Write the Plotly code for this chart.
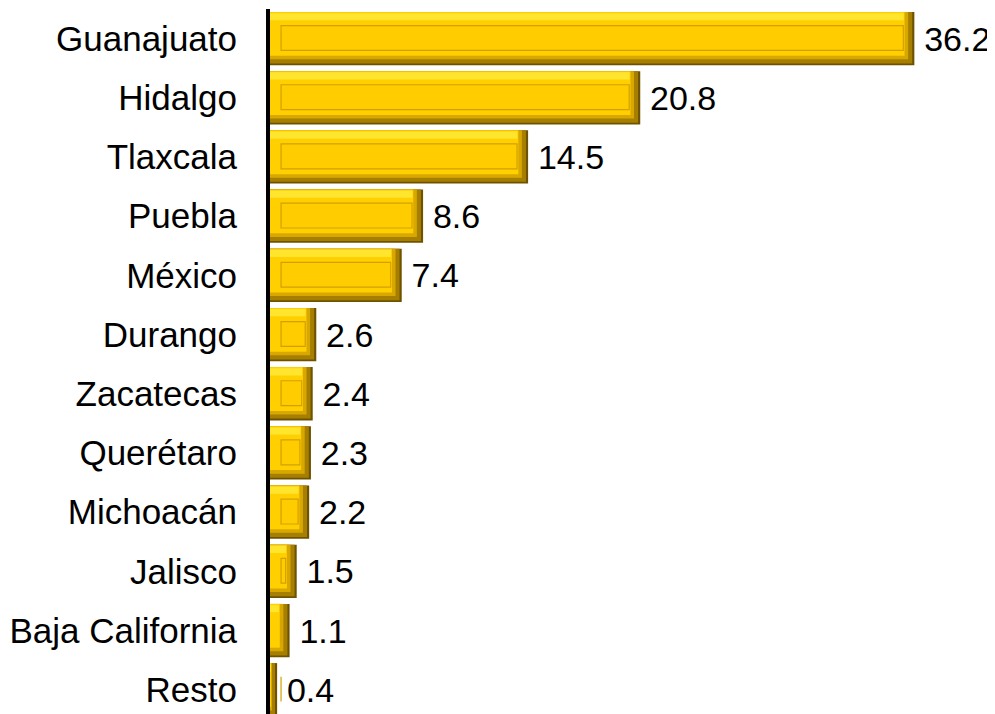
import plotly.graph_objects as go

states = ["Guanajuato", "Hidalgo", "Tlaxcala", "Puebla", "México", "Durango",
          "Zacatecas", "Querétaro", "Michoacán", "Jalisco", "Baja California", "Resto"]
values = [36.2, 20.8, 14.5, 8.6, 7.4, 2.6, 2.4, 2.3, 2.2, 1.5, 1.1, 0.4]
value_labels = ["36.2", "20.8", "14.5", "8.6", "7.4", "2.6", "2.4", "2.3", "2.2", "1.5", "1.1", "0.4"]

BEVEL_X = 0.62   # bevel thickness in x data units (~11px)
FONT = "Liberation Sans, Arial, sans-serif"


def shrink(d, floor):
    return [max(v - d, floor) for v in values]


fig = go.Figure()

# darkest outer edge (bottom / right)
fig.add_trace(go.Bar(
    y=states, x=values, orientation="h", width=0.9,
    marker=dict(color="#6E5200", line=dict(width=0)),
    text=["\u2009" + t for t in value_labels], textposition="outside", cliponaxis=False,
    constraintext="none",
    textfont=dict(family=FONT, size=34, color="black"),
    hoverinfo="skip",
))
# dark gold band
fig.add_trace(go.Bar(
    y=states, x=shrink(0.12, 0.08), orientation="h", width=0.87, offset=-0.45,
    marker=dict(color="#A67F00", line=dict(width=0)), hoverinfo="skip",
))
# mid gold band
fig.add_trace(go.Bar(
    y=states, x=shrink(0.35, 0.06), orientation="h", width=0.8, offset=-0.45,
    marker=dict(color="#D9A800", line=dict(width=0)), hoverinfo="skip",
))
# light body (top / left bevel)
fig.add_trace(go.Bar(
    y=states, x=shrink(0.55, 0.05), orientation="h", width=0.74, offset=-0.45,
    marker=dict(color="#FFCF00", line=dict(width=0)), hoverinfo="skip",
))
# top highlight
fig.add_trace(go.Bar(
    y=states, x=shrink(0.6, 0.05), orientation="h", width=0.12, offset=-0.43,
    marker=dict(color="#FFE52E", line=dict(width=0)), hoverinfo="skip",
))
# inner face
fig.add_trace(go.Bar(
    y=states, x=shrink(2 * BEVEL_X, 0), base=BEVEL_X,
    orientation="h", width=0.42, offset=-0.22,
    marker=dict(color="#FFCC00", line=dict(color="#D4A000", width=1.2)),
    hoverinfo="skip",
))

# the page body has an 8px margin, so the figure is sized/positioned to compensate
fig.update_layout(
    width=987, height=706,
    margin=dict(l=262, r=13, t=1, b=0, autoexpand=False),
    barmode="overlay",
    showlegend=False,
    plot_bgcolor="white", paper_bgcolor="white",
    font=dict(family=FONT, size=34, color="black"),
    xaxis=dict(range=[0, 40], visible=False, showgrid=False, zeroline=False,
               automargin=False),
    yaxis=dict(
        range=[11.41, -0.5], showgrid=False, zeroline=False,
        showline=True, linecolor="black", linewidth=4,
        ticks="", ticklabelstandoff=22, automargin=False,
        tickfont=dict(family=FONT, size=35, color="black"),
    ),
)

fig.write_html("out.html")
